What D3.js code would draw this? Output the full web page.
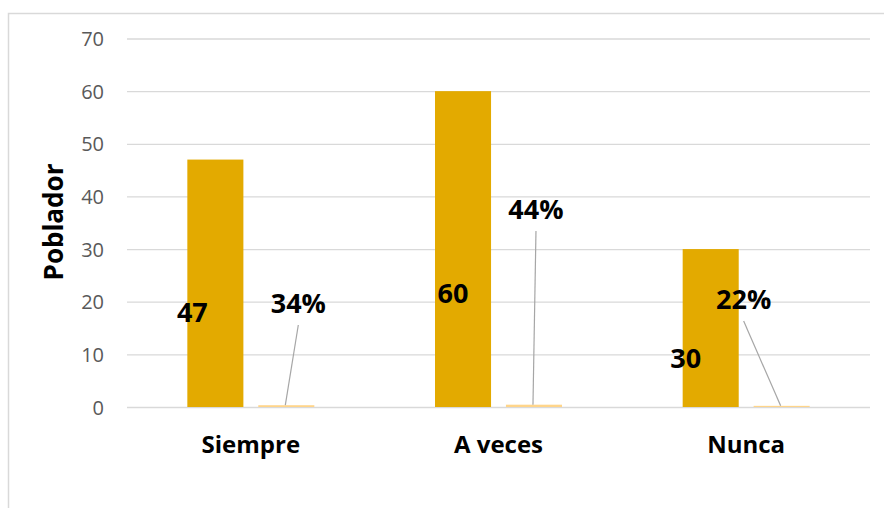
<!DOCTYPE html>
<meta charset="utf-8">
<style>
body { margin: 0; background: #fff; }
svg { display: block; }
text { font-family: "Open Sans", sans-serif; }
</style>
<body>
<script src="https://cdn.jsdelivr.net/npm/d3@7"></script>
<script>
var categories = ["Siempre", "A veces", "Nunca"];
var counts = [47, 60, 30];
var shares = [0.34, 0.44, 0.22];
var shareLabels = ["34%", "44%", "22%"];
var yTicks = [0, 10, 20, 30, 40, 50, 60, 70];

// manually moved data labels: x offset from bar centre, text baseline (px)
var countLabelPos = [{dx: -23, y: 322}, {dx: -10, y: 303}, {dx: -25, y: 368}];
var shareLabelPos = [{dx: 12, y: 313}, {dx: 2, y: 219}, {dx: -38, y: 309}];

var W = 884, H = 508;
var margin = {top: 38.5, right: 14, bottom: 101, left: 127};
var width = W - margin.left - margin.right,
    height = H - margin.top - margin.bottom;

var svg = d3.select("body").append("svg")
    .attr("width", W)
    .attr("height", H);

// chart area border
svg.append("path")
    .attr("d", "M8.5,508 V13.5 H884")
    .attr("fill", "none")
    .attr("stroke", "#d9d9d9")
    .attr("stroke-width", 1.5);

var g = svg.append("g")
    .attr("transform", "translate(" + margin.left + "," + margin.top + ")");

var x0 = d3.scaleBand().domain(categories).range([0, width]);
var x1 = d3.scaleBand().domain(["count", "share"]).range([0, 127]).paddingInner(0.21);
var y = d3.scaleLinear().domain([0, 70]).range([height, 0]);

// gridlines
g.append("g")
    .selectAll("line")
    .data(yTicks)
  .enter().append("line")
    .attr("x1", 0)
    .attr("x2", width)
    .attr("y1", function(d) { return y(d) + 0.5; })
    .attr("y2", function(d) { return y(d) + 0.5; })
    .attr("stroke", "#d9d9d9")
    .attr("stroke-width", 1.3);

var yAxis = g.append("g")
    .call(d3.axisLeft(y).tickValues(yTicks).tickSize(0).tickPadding(23));
yAxis.select(".domain").remove();
yAxis.selectAll("text")
    .style("font-family", "'Open Sans', sans-serif")
    .style("font-size", "20px")
    .attr("dy", "0.36em")
    .attr("fill", "#595959");

var xAxis = g.append("g")
    .attr("transform", "translate(0," + height + ")")
    .call(d3.axisBottom(x0).tickSize(0).tickPadding(0));
xAxis.select(".domain").remove();
xAxis.selectAll("text")
    .attr("y", 46)
    .attr("dy", 0)
    .style("font-family", "'Open Sans', sans-serif")
    .style("font-size", "24px")
    .style("font-weight", "bold")
    .attr("fill", "#000");

var groupStart = function(i) { return x0(categories[i]) + (x0.bandwidth() - 127) / 2; };
var shareCentre = function(i) { return groupStart(i) + x1("share") + x1.bandwidth() / 2; };

var rows = categories.map(function(c, i) {
  return {i: i, cat: c, count: counts[i], share: shares[i], label: shareLabels[i]};
});

// count bars
g.selectAll(".bar")
    .data(rows)
  .enter().append("rect")
    .attr("class", "bar")
    .attr("x", function(d) { return groupStart(d.i) + x1("count"); })
    .attr("y", function(d) { return y(d.count); })
    .attr("width", x1.bandwidth())
    .attr("height", function(d) { return height - y(d.count); })
    .attr("fill", "#e3aa00");

// share bars (same axis, so nearly flat)
g.selectAll(".sbar")
    .data(rows)
  .enter().append("rect")
    .attr("class", "sbar")
    .attr("x", function(d) { return groupStart(d.i) + x1("share"); })
    .attr("y", function(d) { return y(d.share); })
    .attr("width", x1.bandwidth())
    .attr("height", function(d) { return height - y(d.share); })
    .attr("fill", "#ffd58a");

// leader lines
g.selectAll(".leader")
    .data(rows)
  .enter().append("line")
    .attr("x1", function(d) { return shareCentre(d.i) + shareLabelPos[d.i].dx; })
    .attr("y1", function(d) { return shareLabelPos[d.i].y + 12 - margin.top; })
    .attr("x2", function(d) { return shareCentre(d.i) - 1; })
    .attr("y2", function(d) { return y(d.share); })
    .attr("stroke", "#a6a6a6")
    .attr("stroke-width", 1.2);

// count labels
g.selectAll(".clabel")
    .data(rows)
  .enter().append("text")
    .attr("x", function(d) { return groupStart(d.i) + x1.bandwidth() / 2 + countLabelPos[d.i].dx; })
    .attr("y", function(d) { return countLabelPos[d.i].y - margin.top; })
    .attr("text-anchor", "middle")
    .style("font-size", "27px")
    .style("font-weight", "bold")
    .text(function(d) { return d.count; });

// share labels
g.selectAll(".slabel")
    .data(rows)
  .enter().append("text")
    .attr("x", function(d) { return shareCentre(d.i) + shareLabelPos[d.i].dx; })
    .attr("y", function(d) { return shareLabelPos[d.i].y - margin.top; })
    .attr("text-anchor", "middle")
    .style("font-size", "27px")
    .style("font-weight", "bold")
    .text(function(d) { return d.label; });

// y axis title
svg.append("text")
    .attr("transform", "translate(63,222) rotate(-90)")
    .attr("text-anchor", "middle")
    .style("font-size", "26px")
    .style("font-weight", "bold")
    .text("Poblador");
</script>
</body>
